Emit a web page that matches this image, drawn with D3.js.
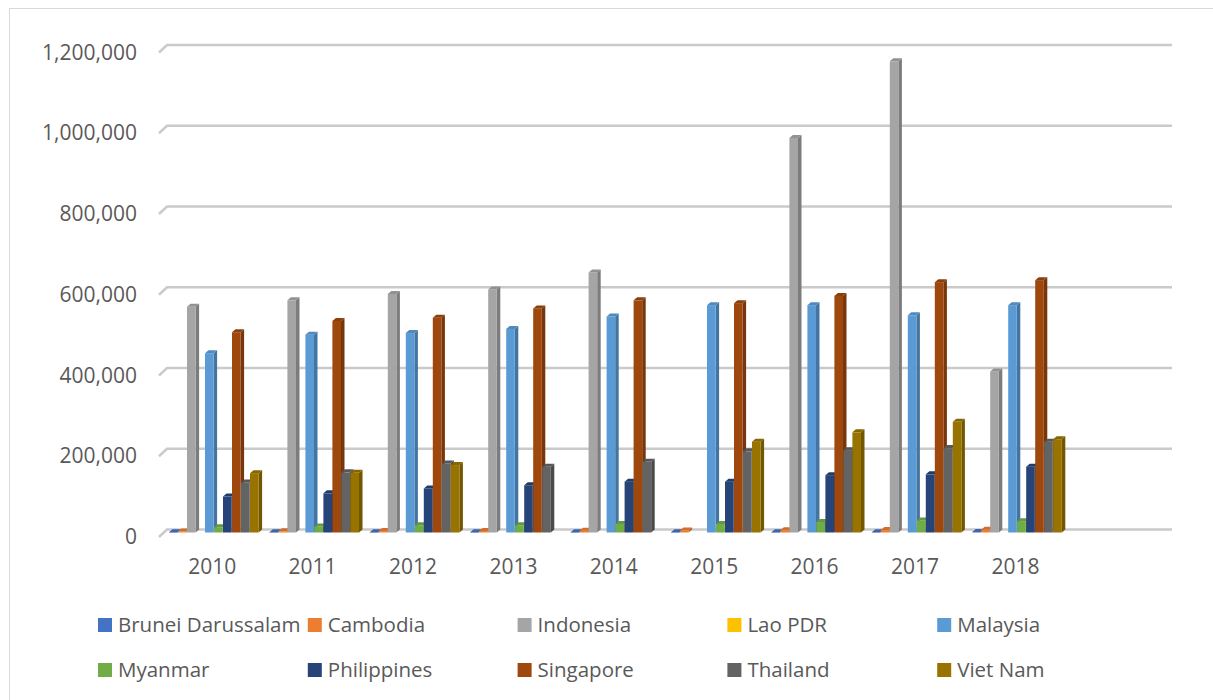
<!DOCTYPE html>
<html>
<head>
<meta charset="utf-8">
<script src="https://cdn.jsdelivr.net/npm/d3@7/dist/d3.min.js"></script>
<style>
  html, body { margin: 0; padding: 0; background: #ffffff; }
  svg { display: block; }
  text { font-family: "Open Sans", "Liberation Sans", sans-serif; fill: #595959; }
</style>
</head>
<body>
<svg id="chart" width="1213" height="700"></svg>
<script>
// Years on the category axis (one extra empty slot at the end of the floor)
const years = ["2010", "2011", "2012", "2013", "2014", "2015", "2016", "2017", "2018", ""];

const countries = ["Brunei Darussalam", "Cambodia", "Indonesia", "Lao PDR", "Malaysia",
                   "Myanmar", "Philippines", "Singapore", "Thailand", "Viet Nam"];

const colors = ["#4472c4", "#ed7d31", "#a5a5a5", "#ffc000", "#5b9bd5",
                "#70ad47", "#264478", "#9e480e", "#636363", "#997300"];

// Values per country, 2010–2018 (null = no data)
const brunei      = [400, 500, 600, 600, 700, 700, 800, 900, 1000];
const cambodia    = [2500, 3000, 3500, 4000, 4500, 5000, 5500, 6000, 7000];
const indonesia   = [559000, 575000, 591000, 602000, 644000, null, 977000, 1167000, 399000];
const laoPDR      = [null, null, null, null, null, null, null, null, null];
const malaysia    = [444000, 490000, 494000, 504000, 535000, 563000, 563000, 538000, 563000];
const myanmar     = [13000, 15000, 18000, 18000, 21000, 21000, 26000, 30000, 28000];
const philippines = [89000, 97000, 109000, 117000, 126000, 126000, 142000, 144000, 163000];
const singapore   = [496000, 524000, 532000, 555000, 575000, 568000, 586000, 620000, 625000];
const thailand    = [124000, 149000, 171000, 163000, 175000, 201000, 204000, 209000, 225000];
const vietNam     = [147000, 148000, 167000, null, null, 225000, 248000, 274000, 231000];

const seriesValues = [brunei, cambodia, indonesia, laoPDR, malaysia,
                      myanmar, philippines, singapore, thailand, vietNam];

const yTicks = [0, 200000, 400000, 600000, 800000, 1000000, 1200000];

const svg = d3.select("#chart");

// Chart frame
svg.append("rect")
  .attr("x", 9.5).attr("y", 8.5)
  .attr("width", 1210).attr("height", 700)
  .attr("fill", "none").attr("stroke", "#d9d9d9").attr("stroke-width", 1);

// 3D depth offsets
const dx = 3.5, dy = 3;

// Back-wall value scale
const y = d3.scaleLinear().domain([0, 1200000]).range([529.5, 45]);
// Front-face value position
const yf = v => y(v) + dy;

const x = d3.scaleBand().domain(years).range([162, 1166]).paddingInner(0).paddingOuter(0);
const slot = d3.scaleBand().domain(countries).range([7, 97]);
const barW = 8.6;

// Gridlines on the back wall, with the short side-wall stub at the left
const grid = svg.append("g");
yTicks.forEach(t => {
  const gy = y(t);
  grid.append("path")
    .attr("d", `M159,${gy + 7.5}L167,${gy}L1172,${gy}`)
    .attr("fill", "none")
    .attr("stroke", "#cacaca")
    .attr("stroke-width", 2.4);
});

// Y axis labels
const yAxis = d3.axisLeft(y)
  .tickValues(yTicks)
  .tickSize(0)
  .tickPadding(0)
  .tickFormat(d3.format(","));
const yG = svg.append("g").attr("transform", "translate(137,7.5)").call(yAxis);
yG.select(".domain").remove();
yG.selectAll("text").style("font-size", "21px").attr("fill", "#595959");

// X axis labels
const xAxis = d3.axisBottom(x).tickSize(0).tickPadding(0);
const xG = svg.append("g").attr("transform", "translate(0,559)").call(xAxis);
xG.select(".domain").remove();
xG.selectAll("text").style("font-size", "21px").attr("fill", "#595959").attr("dy", "0.71em");

// Columns
const bars = svg.append("g");
const shade = (c, k) => d3.color(c).darker(k).formatHex();
years.forEach((yr, ci) => {
  if (ci >= 9) return;
  countries.forEach((name, si) => {
    const v = seriesValues[si][ci];
    if (v == null) return;
    const x0 = x(yr) + slot(name);
    const top = yf(v), base = yf(0);
    const g = bars.append("g");
    // side face
    g.append("path")
      .attr("d", `M${x0 + barW},${top}L${x0 + barW + dx},${top - dy}L${x0 + barW + dx},${base - dy}L${x0 + barW},${base}Z`)
      .attr("fill", shade(colors[si], 0.8));
    // front face
    g.append("rect")
      .attr("x", x0).attr("y", top)
      .attr("width", barW).attr("height", Math.max(0.5, base - top))
      .attr("fill", colors[si]);
    // top face
    g.append("path")
      .attr("d", `M${x0},${top}L${x0 + dx},${top - dy}L${x0 + barW + dx},${top - dy}L${x0 + barW},${top}Z`)
      .attr("fill", shade(colors[si], 0.35));
  });
});

// Legend: two rows of five
const legend = svg.append("g");
countries.forEach((name, i) => {
  const col = i % 5, row = Math.floor(i / 5);
  const lx = 98 + col * 209.8, ly = 625 + row * 45;
  legend.append("rect")
    .attr("x", lx).attr("y", ly - 7)
    .attr("width", 14).attr("height", 14)
    .attr("fill", colors[i]);
  legend.append("text")
    .attr("x", lx + 20).attr("y", ly)
    .attr("dy", "0.35em")
    .style("font-size", "20.5px")
    .text(name);
});
</script>
</body>
</html>
